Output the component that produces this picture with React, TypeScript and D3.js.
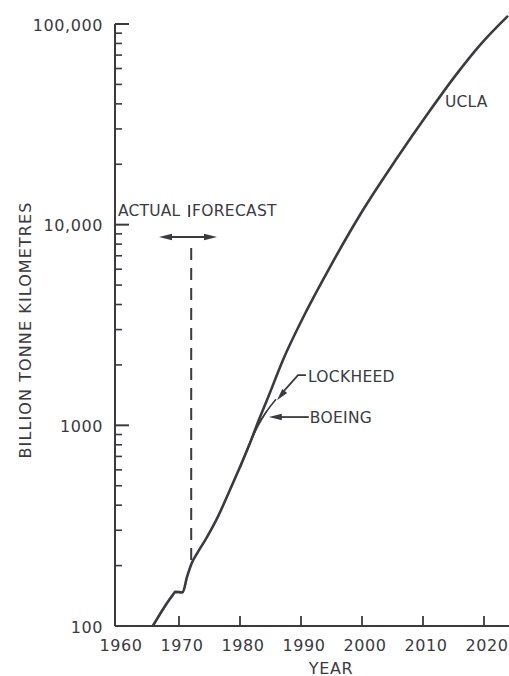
import React from "react";
import * as d3 from "d3";

const W = 509;
const H = 676;
const INK = "#3a3a3f";

const xTickYears = [1960, 1970, 1980, 1990, 2000, 2010, 2020];
const yMajorTicks = [100, 1000, 10000, 100000];
const yTickLabels = ["100", "1000", "10,000", "100,000"];

const uclaYears = [1965.7, 1969.0, 1969.4, 1970.6, 1971.3, 1972.1, 1973.0, 1974.3, 1976.1, 1978.85, 1981.64, 1983.28, 1984.43, 1987.05, 1990.98, 1994.75, 2000.16, 2005.74, 2010.82, 2015.25, 2019.34, 2023.93];
const uclaValues = [100, 143, 148, 147, 175, 206, 231, 268, 337, 516, 817, 1100, 1337, 2117, 3760, 6150, 11830, 21480, 35900, 55000, 78500, 109700];

const lockheedYears = [1980.0, 1983.0, 1985.9];
const lockheedValues = [615, 1010, 1350];

const boeingYears = [1980.0, 1982.5, 1984.4];
const boeingValues = [610, 930, 1178];

const forecastStartYear = 1972.0;

function arrowHead(tx: number, ty: number, fx: number, fy: number, len = 11, half = 3.5) {
  const dx = tx - fx, dy = ty - fy;
  const d = Math.hypot(dx, dy) || 1;
  const ux = dx / d, uy = dy / d;
  const bx = tx - ux * len, by = ty - uy * len;
  const px = -uy * half, py = ux * half;
  return `M${tx},${ty}L${bx + px},${by + py}L${bx - px},${by - py}Z`;
}

export default function App() {
  const x = d3.scaleLinear().domain([1960, 2020]).range([118, 484]);
  const y = d3.scaleLog().domain([100, 100000]).range([626, 24]);
  const axisX = 115;
  const xEnd = W;

  const line = d3
    .line<[number, number]>()
    .x((d) => x(d[0]))
    .y((d) => y(d[1]))
    .curve(d3.curveMonotoneX);

  const ucla = uclaYears.map((yr, i) => [yr, uclaValues[i]] as [number, number]);
  const lock = lockheedYears.map((yr, i) => [yr, lockheedValues[i]] as [number, number]);
  const boe = boeingYears.map((yr, i) => [yr, boeingValues[i]] as [number, number]);

  const minor: number[] = [];
  [100, 1000, 10000].forEach((dec) => {
    for (let k = 2; k <= 9; k++) minor.push(dec * k);
  });

  const fx = x(forecastStartYear);
  const fyBottom = y(202);

  const lockEnd = lock[lock.length - 1];
  const lockTipX = x(lockEnd[0]) + 1;
  const lockTipY = y(lockEnd[1]) + 1;
  const lockCornerX = lockTipX + 21;
  const lockCornerY = lockTipY - 25;

  const boeEnd = boe[boe.length - 1];
  const boeTipX = x(boeEnd[0]) + 2;
  const boeTipY = y(boeEnd[1]) + 6;

  const uclaLabelPt = ucla[18];

  const font = "'DejaVu Sans', sans-serif";

  return (
    <svg
      width={W}
      height={H}
      style={{ position: "absolute", left: 0, top: 0, display: "block", background: "#fff" }}
      fontFamily={font}
    >
      {/* Y axis */}
      <line x1={axisX} x2={axisX} y1={y(100000)} y2={y(100)} stroke={INK} strokeWidth={2} />
      {yMajorTicks.map((v, i) => (
        <g key={"ym" + v}>
          <line x1={axisX} x2={axisX + 14} y1={y(v)} y2={y(v)} stroke={INK} strokeWidth={2} />
          <text
            x={103}
            y={y(v) + 1}
            textAnchor="end"
            dominantBaseline="central"
            fontSize={16}
            letterSpacing={0.6}
            fill={INK}
          >
            {yTickLabels[i]}
          </text>
        </g>
      ))}
      {minor.map((v) => (
        <line key={"yn" + v} x1={axisX} x2={axisX + 7} y1={y(v)} y2={y(v)} stroke={INK} strokeWidth={1.6} />
      ))}
      <text
        transform={`translate(25,330) rotate(-90)`}
        textAnchor="middle"
        dominantBaseline="central"
        fontSize={16}
        letterSpacing={1.1}
        fill={INK}
      >
        BILLION TONNE KILOMETRES
      </text>

      {/* X axis */}
      <line x1={axisX} x2={xEnd} y1={y(100)} y2={y(100)} stroke={INK} strokeWidth={2} />
      {xTickYears.map((yr) => (
        <g key={"xt" + yr}>
          {yr > 1960 && (
            <line x1={x(yr)} x2={x(yr)} y1={y(100)} y2={y(100) - 10} stroke={INK} strokeWidth={1.8} />
          )}
          <text
            x={x(yr) + 3}
            y={645}
            textAnchor="middle"
            dominantBaseline="central"
            fontSize={16}
            letterSpacing={0.6}
            fill={INK}
          >
            {yr}
          </text>
        </g>
      ))}
      <text x={331} y={668} textAnchor="middle" dominantBaseline="central" fontSize={16} letterSpacing={0.6} fill={INK}>
        YEAR
      </text>

      {/* Actual / forecast */}
      <text x={118} y={211} dominantBaseline="central" fontSize={15.5} letterSpacing={0.2} fill={INK}>
        ACTUAL
      </text>
      <text x={192} y={211} dominantBaseline="central" fontSize={15.5} letterSpacing={0.3} fill={INK}>
        FORECAST
      </text>
      <line x1={fx - 2} x2={fx - 2} y1={205} y2={217} stroke={INK} strokeWidth={1.8} />
      <line x1={fx} x2={fx} y1={248} y2={fyBottom} stroke={INK} strokeWidth={2} strokeDasharray="12 8" />
      <line x1={163} x2={213} y1={237} y2={237} stroke={INK} strokeWidth={1.8} />
      <path d={arrowHead(159, 237, 175, 237, 13, 3.2)} fill={INK} />
      <path d={arrowHead(217, 237, 200, 237, 13, 3.2)} fill={INK} />

      {/* curves */}
      <path d={line(boe) || ""} fill="none" stroke={INK} strokeWidth={1.3} opacity={0.8} />
      <path d={line(lock) || ""} fill="none" stroke={INK} strokeWidth={1.6} />
      <path d={line(ucla) || ""} fill="none" stroke={INK} strokeWidth={2.6} strokeLinejoin="round" />

      {/* Lockheed leader */}
      <polyline
        points={`${lockCornerX + 8},${lockCornerY} ${lockCornerX},${lockCornerY} ${lockTipX + 5},${lockTipY - 7}`}
        fill="none"
        stroke={INK}
        strokeWidth={1.8}
      />
      <path d={arrowHead(lockTipX, lockTipY, lockCornerX, lockCornerY, 12, 3.2)} fill={INK} />
      <text x={lockCornerX + 10} y={lockCornerY + 2} dominantBaseline="central" fontSize={15.5} letterSpacing={0.3} fill={INK}>
        LOCKHEED
      </text>

      {/* Boeing leader */}
      <line x1={boeTipX + 10} x2={boeTipX + 40} y1={boeTipY} y2={boeTipY} stroke={INK} strokeWidth={1.8} />
      <path d={arrowHead(boeTipX, boeTipY, boeTipX + 20, boeTipY, 13, 3.2)} fill={INK} />
      <text x={boeTipX + 41} y={boeTipY + 1} dominantBaseline="central" fontSize={15.5} letterSpacing={0.3} fill={INK}>
        BOEING
      </text>

      {/* UCLA */}
      <text x={x(uclaLabelPt[0]) + 17} y={y(uclaLabelPt[1]) - 11} dominantBaseline="central" fontSize={15.5} letterSpacing={0.2} fill={INK}>
        UCLA
      </text>
    </svg>
  );
}
